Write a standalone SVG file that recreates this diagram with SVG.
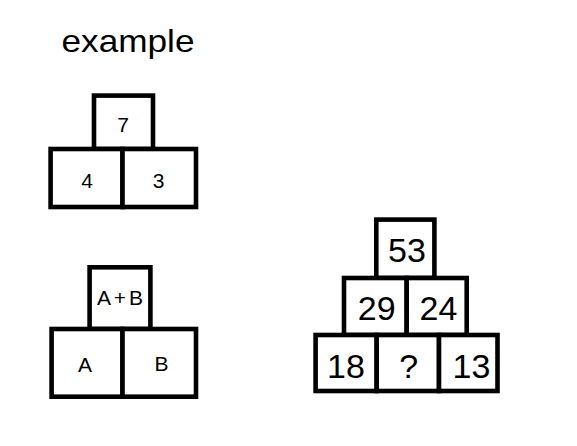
<svg xmlns="http://www.w3.org/2000/svg" width="577" height="446" viewBox="0 0 577 446">
<style>
.b{fill:#fff;stroke:#000;stroke-width:4.6}
text{font-family:"Liberation Sans",Arial,sans-serif;fill:#000;text-anchor:middle}
.s{font-size:21px}
.l{font-size:34px}
</style>
<rect width="577" height="446" fill="#fff"/>
<text x="128" y="51.5" style="font-size:32px" textLength="133" lengthAdjust="spacingAndGlyphs">example</text>
<g id="ex1">
<g id="ex1-top"><rect class="b" x="94" y="95.6" width="59" height="53.4"/><text class="s" x="123" y="131.5">7</text></g>
<g id="ex1-left"><rect class="b" x="50.6" y="149" width="71.9" height="58"/><text class="s" x="87" y="188">4</text></g>
<g id="ex1-right"><rect class="b" x="122.5" y="149" width="73.5" height="58"/><text class="s" x="158.5" y="188">3</text></g>
</g>
<g id="ex2">
<g id="ex2-top"><rect class="b" x="89.6" y="267.3" width="60.8" height="61.7"/><text class="s" x="120" y="305" textLength="46" lengthAdjust="spacing">A+B</text></g>
<g id="ex2-left"><rect class="b" x="51.6" y="329" width="70.9" height="67.7"/><text class="s" x="85" y="371.5">A</text></g>
<g id="ex2-right"><rect class="b" x="122.5" y="329" width="73.5" height="67.7"/><text class="s" x="161.5" y="370.5">B</text></g>
</g>
<g id="puzzle">
<g id="p53"><rect class="b" x="376.3" y="219.6" width="58.1" height="58.4"/><text class="l" x="407" y="261.7">53</text></g>
<g id="p29"><rect class="b" x="344" y="278" width="62.7" height="57"/><text class="l" x="376.7" y="320">29</text></g>
<g id="p24"><rect class="b" x="406.7" y="278" width="60" height="57"/><text class="l" x="438.5" y="320">24</text></g>
<g id="p18"><rect class="b" x="315.6" y="335" width="61.1" height="56"/><text class="l" x="346" y="378.3">18</text></g>
<g id="pq"><rect class="b" x="376.7" y="335" width="62.3" height="56"/><text class="l" x="408.7" y="378.3">?</text></g>
<g id="p13"><rect class="b" x="439" y="335" width="58.5" height="56"/><text class="l" x="471.5" y="378.3">13</text></g>
</g>
<g id="connectors"/>
</svg>
